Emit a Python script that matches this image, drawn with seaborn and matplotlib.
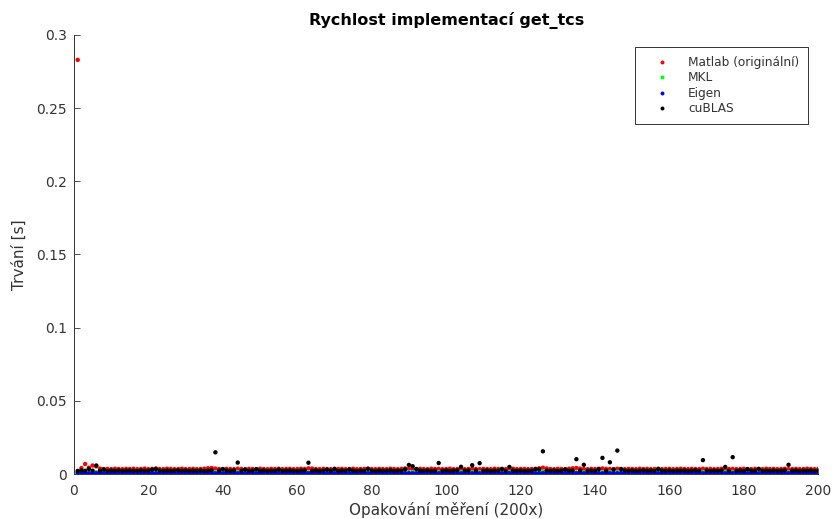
import numpy as np
import pandas as pd
import matplotlib
matplotlib.use("Agg")
import matplotlib.pyplot as plt
import seaborn as sns

# Measured durations [s] of 200 repeated runs for each implementation
matlab = [
    0.2830, 0.0040, 0.0068, 0.0043, 0.0058, 0.0052, 0.0037, 0.0034, 0.0035, 0.0033,
    0.0036, 0.0034, 0.0033, 0.0035, 0.0034, 0.0036, 0.0033, 0.0034, 0.0037, 0.0033,
    0.0035, 0.0038, 0.0034, 0.0033, 0.0036, 0.0035, 0.0033, 0.0034, 0.0036, 0.0033,
    0.0034, 0.0035, 0.0033, 0.0034, 0.0036, 0.0039, 0.0041, 0.0037, 0.0034, 0.0033,
    0.0035, 0.0034, 0.0033, 0.0036, 0.0034, 0.0033, 0.0035, 0.0034, 0.0033, 0.0036,
    0.0034, 0.0033, 0.0035, 0.0034, 0.0036, 0.0033, 0.0034, 0.0035, 0.0033, 0.0034,
    0.0036, 0.0034, 0.0039, 0.0037, 0.0034, 0.0033, 0.0035, 0.0034, 0.0033, 0.0036,
    0.0034, 0.0035, 0.0033, 0.0034, 0.0036, 0.0033, 0.0034, 0.0035, 0.0037, 0.0034,
    0.0033, 0.0035, 0.0034, 0.0033, 0.0036, 0.0034, 0.0033, 0.0035, 0.0038, 0.0036,
    0.0034, 0.0033, 0.0035, 0.0034, 0.0033, 0.0036, 0.0034, 0.0035, 0.0033, 0.0034,
    0.0036, 0.0033, 0.0034, 0.0035, 0.0033, 0.0034, 0.0036, 0.0034, 0.0033, 0.0035,
    0.0034, 0.0033, 0.0036, 0.0034, 0.0035, 0.0033, 0.0034, 0.0036, 0.0033, 0.0034,
    0.0035, 0.0033, 0.0034, 0.0036, 0.0039, 0.0043, 0.0038, 0.0034, 0.0033, 0.0035,
    0.0034, 0.0033, 0.0036, 0.0039, 0.0041, 0.0037, 0.0034, 0.0033, 0.0035, 0.0034,
    0.0036, 0.0038, 0.0035, 0.0034, 0.0033, 0.0036, 0.0034, 0.0033, 0.0035, 0.0034,
    0.0033, 0.0036, 0.0034, 0.0035, 0.0033, 0.0034, 0.0036, 0.0033, 0.0034, 0.0035,
    0.0033, 0.0034, 0.0036, 0.0034, 0.0033, 0.0035, 0.0034, 0.0033, 0.0036, 0.0034,
    0.0035, 0.0033, 0.0034, 0.0036, 0.0033, 0.0034, 0.0035, 0.0033, 0.0034, 0.0036,
    0.0034, 0.0033, 0.0035, 0.0034, 0.0033, 0.0036, 0.0034, 0.0035, 0.0033, 0.0034,
    0.0036, 0.0033, 0.0034, 0.0035, 0.0033, 0.0034, 0.0036, 0.0034, 0.0033, 0.0035,
]
mkl = [
    0.0013, 0.0012, 0.0014, 0.0012, 0.0013, 0.0012, 0.0011, 0.0012, 0.0013, 0.0012,
    0.0011, 0.0012, 0.0012, 0.0013, 0.0011, 0.0012, 0.0012, 0.0011, 0.0013, 0.0012,
    0.0012, 0.0011, 0.0012, 0.0013, 0.0012, 0.0011, 0.0012, 0.0012, 0.0013, 0.0011,
    0.0012, 0.0012, 0.0011, 0.0013, 0.0012, 0.0012, 0.0011, 0.0012, 0.0013, 0.0012,
    0.0011, 0.0012, 0.0012, 0.0013, 0.0011, 0.0012, 0.0012, 0.0011, 0.0013, 0.0012,
    0.0012, 0.0011, 0.0012, 0.0013, 0.0012, 0.0011, 0.0012, 0.0012, 0.0013, 0.0011,
    0.0012, 0.0012, 0.0011, 0.0013, 0.0012, 0.0012, 0.0011, 0.0012, 0.0013, 0.0012,
    0.0011, 0.0012, 0.0012, 0.0013, 0.0011, 0.0012, 0.0012, 0.0011, 0.0013, 0.0012,
    0.0012, 0.0011, 0.0012, 0.0013, 0.0012, 0.0011, 0.0012, 0.0012, 0.0013, 0.0011,
    0.0012, 0.0012, 0.0011, 0.0013, 0.0012, 0.0012, 0.0011, 0.0012, 0.0013, 0.0012,
    0.0011, 0.0012, 0.0012, 0.0013, 0.0011, 0.0012, 0.0012, 0.0011, 0.0013, 0.0012,
    0.0012, 0.0011, 0.0012, 0.0013, 0.0012, 0.0011, 0.0012, 0.0012, 0.0013, 0.0011,
    0.0012, 0.0012, 0.0011, 0.0013, 0.0014, 0.0016, 0.0013, 0.0012, 0.0013, 0.0012,
    0.0011, 0.0012, 0.0012, 0.0013, 0.0011, 0.0012, 0.0012, 0.0011, 0.0013, 0.0012,
    0.0012, 0.0011, 0.0012, 0.0013, 0.0012, 0.0011, 0.0012, 0.0012, 0.0013, 0.0011,
    0.0012, 0.0012, 0.0011, 0.0013, 0.0012, 0.0012, 0.0011, 0.0012, 0.0013, 0.0012,
    0.0011, 0.0012, 0.0012, 0.0013, 0.0011, 0.0012, 0.0012, 0.0011, 0.0013, 0.0012,
    0.0012, 0.0011, 0.0012, 0.0013, 0.0012, 0.0011, 0.0012, 0.0012, 0.0013, 0.0011,
    0.0012, 0.0012, 0.0011, 0.0013, 0.0012, 0.0012, 0.0011, 0.0012, 0.0013, 0.0012,
    0.0011, 0.0012, 0.0012, 0.0013, 0.0011, 0.0012, 0.0012, 0.0011, 0.0013, 0.0012,
]
eigen = [
    0.0006, 0.0005, 0.0006, 0.0005, 0.0005, 0.0006, 0.0005, 0.0005, 0.0006, 0.0005,
    0.0005, 0.0006, 0.0005, 0.0005, 0.0006, 0.0005, 0.0005, 0.0006, 0.0005, 0.0005,
    0.0006, 0.0005, 0.0005, 0.0006, 0.0005, 0.0005, 0.0006, 0.0005, 0.0005, 0.0006,
    0.0005, 0.0005, 0.0006, 0.0005, 0.0005, 0.0006, 0.0005, 0.0005, 0.0006, 0.0005,
    0.0005, 0.0006, 0.0005, 0.0005, 0.0006, 0.0005, 0.0005, 0.0006, 0.0005, 0.0005,
    0.0006, 0.0005, 0.0005, 0.0006, 0.0005, 0.0005, 0.0006, 0.0005, 0.0005, 0.0006,
    0.0005, 0.0005, 0.0006, 0.0005, 0.0005, 0.0006, 0.0005, 0.0005, 0.0006, 0.0005,
    0.0005, 0.0006, 0.0005, 0.0005, 0.0006, 0.0005, 0.0005, 0.0006, 0.0005, 0.0005,
    0.0006, 0.0005, 0.0005, 0.0006, 0.0005, 0.0005, 0.0006, 0.0005, 0.0005, 0.0006,
    0.0005, 0.0005, 0.0006, 0.0005, 0.0005, 0.0006, 0.0005, 0.0005, 0.0006, 0.0005,
    0.0005, 0.0006, 0.0005, 0.0005, 0.0006, 0.0005, 0.0005, 0.0006, 0.0005, 0.0005,
    0.0006, 0.0005, 0.0005, 0.0006, 0.0005, 0.0005, 0.0006, 0.0005, 0.0005, 0.0006,
    0.0005, 0.0005, 0.0006, 0.0005, 0.0005, 0.0006, 0.0005, 0.0005, 0.0006, 0.0005,
    0.0005, 0.0006, 0.0005, 0.0005, 0.0006, 0.0005, 0.0005, 0.0006, 0.0005, 0.0005,
    0.0006, 0.0005, 0.0005, 0.0006, 0.0005, 0.0005, 0.0006, 0.0005, 0.0005, 0.0006,
    0.0005, 0.0005, 0.0006, 0.0005, 0.0005, 0.0006, 0.0005, 0.0005, 0.0006, 0.0005,
    0.0005, 0.0006, 0.0005, 0.0005, 0.0006, 0.0005, 0.0005, 0.0006, 0.0005, 0.0005,
    0.0006, 0.0005, 0.0005, 0.0006, 0.0005, 0.0005, 0.0006, 0.0005, 0.0005, 0.0006,
    0.0005, 0.0005, 0.0006, 0.0005, 0.0005, 0.0006, 0.0005, 0.0005, 0.0006, 0.0005,
    0.0005, 0.0006, 0.0005, 0.0005, 0.0006, 0.0005, 0.0005, 0.0006, 0.0005, 0.0005,
]
cublas = [
    0.0021, 0.0025, 0.0022, 0.0035, 0.0023, 0.0058, 0.0022, 0.0031, 0.0021, 0.0024,
    0.0022, 0.0025, 0.0021, 0.0023, 0.0024, 0.0022, 0.0021, 0.0025, 0.0022, 0.0023,
    0.0030, 0.0034, 0.0023, 0.0022, 0.0024, 0.0021, 0.0023, 0.0025, 0.0022, 0.0024,
    0.0021, 0.0023, 0.0022, 0.0024, 0.0021, 0.0023, 0.0025, 0.0148, 0.0022, 0.0034,
    0.0023, 0.0022, 0.0024, 0.0078, 0.0022, 0.0030, 0.0021, 0.0023, 0.0033, 0.0022,
    0.0024, 0.0021, 0.0023, 0.0022, 0.0030, 0.0021, 0.0023, 0.0024, 0.0022, 0.0021,
    0.0023, 0.0025, 0.0077, 0.0022, 0.0024, 0.0021, 0.0023, 0.0030, 0.0022, 0.0034,
    0.0021, 0.0024, 0.0022, 0.0031, 0.0023, 0.0021, 0.0024, 0.0022, 0.0035, 0.0023,
    0.0021, 0.0024, 0.0022, 0.0023, 0.0025, 0.0021, 0.0023, 0.0022, 0.0033, 0.0062,
    0.0053, 0.0034, 0.0023, 0.0022, 0.0024, 0.0021, 0.0023, 0.0075, 0.0022, 0.0024,
    0.0021, 0.0023, 0.0025, 0.0049, 0.0022, 0.0024, 0.0060, 0.0023, 0.0074, 0.0022,
    0.0024, 0.0021, 0.0023, 0.0022, 0.0034, 0.0021, 0.0048, 0.0023, 0.0022, 0.0024,
    0.0021, 0.0023, 0.0022, 0.0033, 0.0032, 0.0155, 0.0023, 0.0022, 0.0024, 0.0021,
    0.0023, 0.0031, 0.0022, 0.0024, 0.0101, 0.0023, 0.0063, 0.0022, 0.0024, 0.0021,
    0.0033, 0.0110, 0.0022, 0.0080, 0.0031, 0.0160, 0.0034, 0.0023, 0.0022, 0.0024,
    0.0021, 0.0023, 0.0025, 0.0022, 0.0024, 0.0021, 0.0034, 0.0023, 0.0022, 0.0024,
    0.0021, 0.0023, 0.0022, 0.0024, 0.0021, 0.0023, 0.0025, 0.0022, 0.0095, 0.0024,
    0.0021, 0.0023, 0.0022, 0.0024, 0.0048, 0.0021, 0.0115, 0.0022, 0.0024, 0.0021,
    0.0033, 0.0023, 0.0022, 0.0035, 0.0021, 0.0023, 0.0022, 0.0024, 0.0021, 0.0023,
    0.0025, 0.0063, 0.0022, 0.0024, 0.0021, 0.0023, 0.0022, 0.0024, 0.0021, 0.0023,
]

series_names = ["Matlab (originální)", "MKL", "Eigen", "cuBLAS"]
series_colors = ["#ff0000", "#00ff00", "#0000ff", "#000000"]
x_ticks = list(range(0, 201, 20))
y_ticks = [0, 0.05, 0.1, 0.15, 0.2, 0.25, 0.3]
y_tick_labels = ["0", "0.05", "0.1", "0.15", "0.2", "0.25", "0.3"]

runs = np.arange(1, len(matlab) + 1)
df = pd.concat(
    [pd.DataFrame({"run": runs, "time": vals, "impl": name})
     for name, vals in zip(series_names, [matlab, mkl, eigen, cublas])],
    ignore_index=True,
)

sns.set_theme(style="white")
plt.rcParams["font.family"] = ["DejaVu Sans"]

fig = plt.figure(figsize=(8.35, 5.19), dpi=100)
ax = fig.add_axes([0.0886, 0.0867, 0.8914, 0.8459])

sns.scatterplot(
    data=df, x="run", y="time", hue="impl", hue_order=series_names,
    palette=dict(zip(series_names, series_colors)),
    marker="o", s=10, linewidth=0, ax=ax,
)

text_col = "#333333"
ax.set_xlim(0, 200)
ax.set_ylim(0, 0.3)
ax.set_xticks(x_ticks)
ax.set_xticklabels([str(t) for t in x_ticks])
ax.set_yticks(y_ticks)
ax.set_yticklabels(y_tick_labels)
ax.tick_params(direction="in", length=4, width=0.6, colors=text_col,
               labelsize=10, bottom=True, left=True)
ax.tick_params(axis="x", pad=7)
ax.tick_params(axis="y", pad=5)
for side in ["top", "right"]:
    ax.spines[side].set_visible(False)
for side in ["left", "bottom"]:
    ax.spines[side].set_color(text_col)
    ax.spines[side].set_linewidth(0.7)

ax.set_xlabel("Opakování měření (200x)", fontsize=11, color=text_col, labelpad=3)
ax.set_ylabel("Trvání [s]", fontsize=11, color=text_col, labelpad=7)
ax.set_title("Rychlost implementací get_tcs", fontsize=11.5, fontweight="bold",
             color="black", pad=7)

leg = ax.legend(loc="upper right", bbox_to_anchor=(0.9866, 0.9727),
                borderaxespad=0, fontsize=8.7, frameon=True, fancybox=False,
                edgecolor="black", markerscale=0.9, handletextpad=0.7,
                borderpad=0.75, labelspacing=0.2, handlelength=2.9)
leg.get_frame().set_linewidth(0.7)
for t in leg.get_texts():
    t.set_color(text_col)

fig.savefig("out.png", dpi=100)
